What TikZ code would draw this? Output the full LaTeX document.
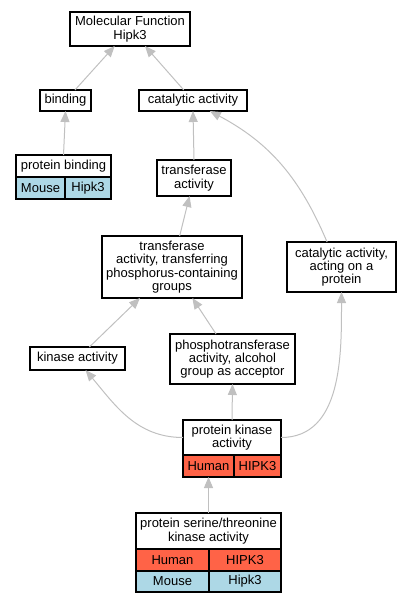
\documentclass[tikz,border=0pt]{standalone}
\usepackage{fontspec}
\setmainfont{Liberation Sans}
\usetikzlibrary{arrows.meta}
\definecolor{edgegray}{RGB}{192,192,192}
\definecolor{human}{RGB}{255,99,71}
\definecolor{mouse}{RGB}{173,216,230}
\begin{document}
\begin{tikzpicture}[x=1pt, y=1pt, font=\fontsize{13}{13.3}\selectfont,
    box/.style={draw, line width=1.1pt, align=center, inner sep=1pt, outer sep=0pt, fill=white},
    cell/.style={box, anchor=north west, minimum height=22pt},
    isa/.style={draw=edgegray, line width=1pt, -{Triangle[length=11pt,width=9pt]}}]
    \useasboundingbox (0,0) rectangle (411,-603);
    \node[box, minimum width=120pt, minimum height=34pt] (mf) at (130,-29) {Molecular Function\\Hipk3};
    \node[box, minimum width=51pt, minimum height=21pt] (bind) at (65.5,-100.5) {binding};
    \node[box, minimum width=108pt, minimum height=21pt] (cat) at (193,-100.5) {catalytic activity};
    \node[box, minimum width=95pt, minimum height=22pt] (pb) at (63.5,-166) {protein binding};
    \node[cell, fill=mouse, minimum width=49pt] (pbm) at (pb.south west) {Mouse};
    \node[cell, fill=mouse, minimum width=46pt] (pbg) at (pbm.north east) {Hipk3};
    \node[box, minimum width=74pt, minimum height=36pt] (trans) at (194,-178) {transferase\\activity};
    \node[box, minimum width=140pt, minimum height=62pt] (tphos) at (172,-267) {transferase\\activity, transferring\\phosphorus-containing\\groups};
    \node[box, minimum width=109pt, minimum height=50pt] (acting) at (341.5,-267) {catalytic activity,\\acting on a\\protein};
    \node[box, minimum width=95pt, minimum height=23pt] (kin) at (77.5,-358.5) {kinase activity};
    \node[box, minimum width=125pt, minimum height=50pt] (phos) at (232.5,-359) {phosphotransferase\\activity, alcohol\\group as acceptor};
    \node[box, minimum width=98pt, minimum height=35pt] (pk) at (232,-437.5) {protein kinase\\activity};
    \node[cell, fill=human, minimum width=51pt] (pkh) at (pk.south west) {Human};
    \node[cell, fill=human, minimum width=47pt] (pkg) at (pkh.north east) {HIPK3};
    \node[box, minimum width=145pt, minimum height=36pt] (pst) at (208.5,-531) {protein serine/threonine\\kinase activity};
    \node[cell, fill=human, minimum width=73pt] (psth) at (pst.south west) {Human};
    \node[cell, fill=human, minimum width=72pt] (pstg) at (psth.north east) {HIPK3};
    \node[cell, fill=mouse, minimum width=73pt, minimum height=21pt] (pstm) at (psth.south west) {Mouse};
    \node[cell, fill=mouse, minimum width=72pt, minimum height=21pt] (pstmg) at (pstm.north east) {Hipk3};
    \draw[isa] (bind) -- (mf);
    \draw[isa] (cat) -- (mf);
    \draw[isa] (pb.north) -- (bind.south);
    \draw[isa] (trans.north) -- (cat.south);
    \draw[isa] (acting.120) to[out=113, in=-28] (cat.-32);
    \draw[isa] (tphos) -- (trans);
    \draw[isa] (kin) -- (tphos);
    \draw[isa] (phos) -- (tphos);
    \draw[isa] (pk.west) to[out=180, in=-50] (kin.-55);
    \draw[isa] (pk.north) -- (phos.south);
    \draw[isa] (pk.east) to[out=0, in=-90] (acting.south);
    \draw[isa] (pst.north) -- (pkh.south);
\end{tikzpicture}
\end{document}
